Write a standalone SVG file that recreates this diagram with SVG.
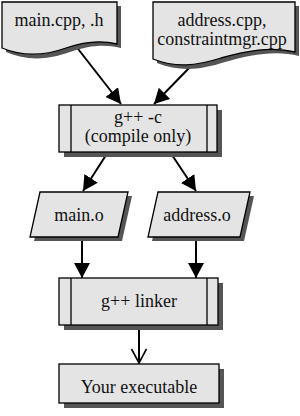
<svg xmlns="http://www.w3.org/2000/svg" width="300" height="416" viewBox="0 0 300 416">
<defs>
<style>
.shape{fill:#e4e4e4;stroke:#000;stroke-width:1.3}
.shadow{fill:#555}
.t{font-family:"Liberation Serif","Times New Roman",serif;font-size:18px;fill:#111;text-anchor:middle}
.edge{stroke:#000;stroke-width:2;fill:none}
</style>
<marker id="tri" markerUnits="userSpaceOnUse" markerWidth="18" markerHeight="18" refX="15" refY="8" orient="auto" viewBox="0 0 18 18">
<path d="M0,0 L15,8 L0,16 Z" fill="#000"/>
</marker>
<marker id="vee" markerUnits="userSpaceOnUse" markerWidth="18" markerHeight="18" refX="15" refY="8" orient="auto" viewBox="0 0 18 18">
<path d="M1,0.5 L15,8 L1,15.5" fill="none" stroke="#000" stroke-width="1.6"/>
</marker>
</defs>
<rect width="300" height="416" fill="#fff"/>
<g id="edges">
<line class="edge" x1="75" y1="45" x2="121" y2="104" marker-end="url(#tri)"/>
<line class="edge" x1="192" y1="65" x2="154" y2="104" marker-end="url(#tri)"/>
<line class="edge" x1="108" y1="152" x2="83" y2="191" marker-end="url(#tri)"/>
<line class="edge" x1="170" y1="152" x2="196" y2="191" marker-end="url(#tri)"/>
<line class="edge" x1="82" y1="237" x2="82" y2="278" marker-end="url(#tri)"/>
<line class="edge" x1="196" y1="237" x2="196" y2="278" marker-end="url(#tri)"/>
<line class="edge" x1="139" y1="325" x2="139" y2="363" marker-end="url(#vee)"/>
</g>
<g id="doc-main">
<path class="shadow" d="M6,6 H121 V48 C105,44 90,45 70,52 C45,61 25,60 6,52 Z"/>
<path class="shape" d="M2,2 H117 V44 C101,40 86,41 66,48 C41,57 21,56 2,48 Z"/>
<text class="t" x="59" y="26">main.cpp, .h</text>
</g>
<g id="doc-address">
<path class="shadow" d="M157,6 H299 V56 C275,50 250,55 225,62 C200,70 180,72 157,63 Z"/>
<path class="shape" d="M153,2 H295 V52 C271,46 246,51 221,58 C196,66 176,68 153,59 Z"/>
<text class="t" x="222" y="26">address.cpp,</text>
<text class="t" x="222" y="45">constraintmgr.cpp</text>
</g>
<g id="compile">
<rect class="shadow" x="64" y="110" width="158" height="47"/>
<rect class="shape" x="59" y="105" width="158" height="47"/>
<line class="shape" x1="71" y1="105" x2="71" y2="152"/>
<line class="shape" x1="207" y1="105" x2="207" y2="152"/>
<text class="t" x="138" y="123">g++ -c</text>
<text class="t" x="138" y="142">(compile only)</text>
</g>
<g id="main-o">
<path class="shadow" d="M44,196 H132 L122,241 H34 Z"/>
<path class="shape" d="M40,192 H128 L118,237 H30 Z"/>
<text class="t" x="79" y="221">main.o</text>
</g>
<g id="address-o">
<path class="shadow" d="M162,196 H254 L244,241 H152 Z"/>
<path class="shape" d="M158,192 H250 L240,237 H148 Z"/>
<text class="t" x="197" y="221">address.o</text>
</g>
<g id="linker">
<rect class="shadow" x="64" y="283" width="159" height="47"/>
<rect class="shape" x="59" y="278" width="159" height="47"/>
<line class="shape" x1="71" y1="278" x2="71" y2="325"/>
<line class="shape" x1="207" y1="278" x2="207" y2="325"/>
<text class="t" x="139" y="307">g++ linker</text>
</g>
<g id="executable">
<rect class="shadow" x="64" y="369" width="160" height="39"/>
<rect class="shape" x="59" y="364" width="160" height="39"/>
<text class="t" x="139" y="393">Your executable</text>
</g>
</svg>
